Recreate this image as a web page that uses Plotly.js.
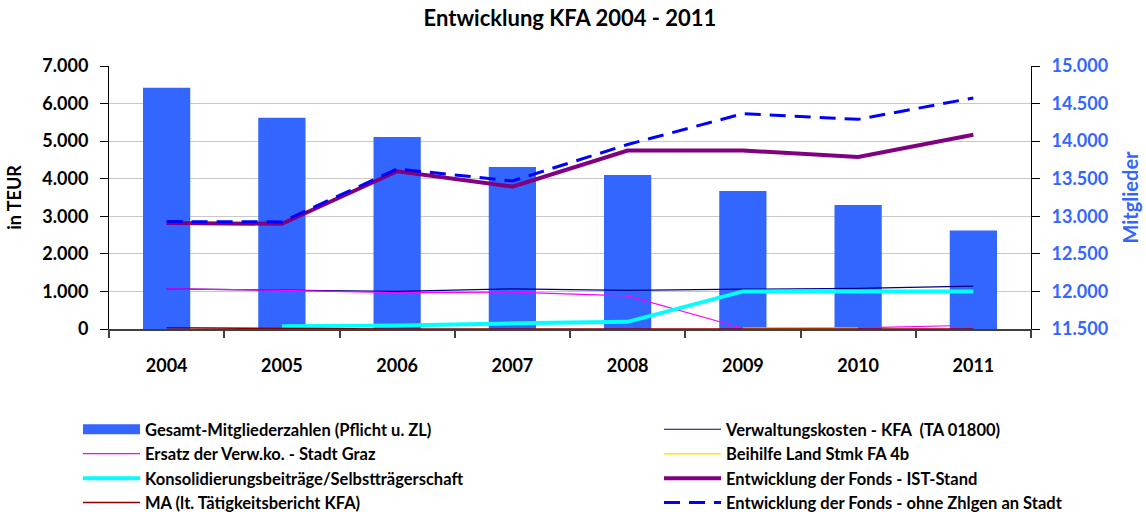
<!DOCTYPE html>
<html>
<head>
<meta charset="utf-8">
<script src="https://cdn.plot.ly/plotly-3.0.1.min.js"></script>
<style>
body { margin: 0; background: #fff; }
#chart { width: 1146px; height: 512px; }
</style>
</head>
<body>
<div id="chart"></div>
<script>
// values
var years = ['2004', '2005', '2006', '2007', '2008', '2009', '2010', '2011'];
var mitglieder = [14710, 14310, 14055, 13655, 13550, 13335, 13150, 12810];
var verwaltung = [1070, 1040, 1000, 1070, 1030, 1060, 1080, 1140];
var ersatz = [1070, 1030, 970, 980, 880, 20, 30, 100];
var beihilfe = [null, null, null, null, null, 20, 20, null];
var konsolidierung = [null, 70, 90, 150, 190, 1000, 1000, 1000];
var fondsIst = [2820, 2800, 4200, 3790, 4750, 4750, 4580, 5170];
var ma = [30, 10, 0, 0, 0, 0, 0, 0];
var fondsOhne = [2860, 2850, 4260, 3940, 4910, 5730, 5580, 6150];

var barColor = '#3366FF';

function lineTrace(name, y, color, width, legendId, dash) {
	return {
		type: 'scatter',
		mode: 'lines',
		x: years,
		y: y,
		yaxis: 'y2',
		name: name,
		legend: legendId,
		line: { color: color, width: width, dash: dash || 'solid' },
		connectgaps: false,
		hoverinfo: 'x+y+name'
	};
}

var data = [
	{
		type: 'bar',
		x: years,
		y: mitglieder,
		yaxis: 'y',
		width: 0.41,
		marker: { color: barColor },
		name: 'Gesamt-Mitgliederzahlen (Pflicht u. ZL)',
		showlegend: false
	},
	// legend entry for the bars (wide swatch like the original)
	{
		type: 'scatter',
		mode: 'lines',
		x: [null],
		y: [null],
		yaxis: 'y2',
		legend: 'legend',
		name: 'Gesamt-Mitgliederzahlen (Pflicht u. ZL)',
		line: { color: barColor, width: 10 },
		hoverinfo: 'skip'
	},
	lineTrace('Verwaltungskosten - KFA  (TA 01800)', verwaltung, '#000080', 1.2, 'legend2'),
	lineTrace('Ersatz der Verw.ko. - Stadt Graz', ersatz, '#FF00FF', 1.2, 'legend'),
	lineTrace('Beihilfe Land Stmk FA 4b', beihilfe, '#FFE600', 1.5, 'legend2'),
	lineTrace('Konsolidierungsbeiträge/Selbstträgerschaft', konsolidierung, '#00FFFF', 4, 'legend'),
	lineTrace('Entwicklung der Fonds - IST-Stand', fondsIst, '#800080', 4, 'legend2'),
	lineTrace('MA (lt. Tätigkeitsbericht KFA)', ma, '#8B0000', 1.5, 'legend'),
	lineTrace('Entwicklung der Fonds - ohne Zhlgen an Stadt', fondsOhne, '#0000FF', 3, 'legend2', '16px,9px')
];

// plot area: x 109..1031 px
function legendBox(xPx) {
	return {
		orientation: 'v',
		xref: 'paper',
		yref: 'container',
		x: (xPx - 109) / 922,
		xanchor: 'left',
		y: 1 - 412 / 512,
		yanchor: 'top',
		itemwidth: 57,
		font: { size: 16.5, weight: 'bold' },
		bgcolor: 'rgba(0,0,0,0)',
		tracegroupgap: 0
	};
}

var layout = {
	width: 1146,
	height: 512,
	margin: { l: 109, r: 115, t: 66, b: 183 },
	paper_bgcolor: '#ffffff',
	plot_bgcolor: '#ffffff',
	separators: ',.',
	font: { family: 'Lato, sans-serif', size: 16, color: '#000000', weight: 'bold' },
	title: {
		text: 'Entwicklung KFA 2004 - 2011',
		font: { size: 22, weight: 'bold' },
		x: 0.5,
		xref: 'paper',
		y: 1 - 18 / 512,
		yref: 'container',
		yanchor: 'middle'
	},
	showlegend: true,
	legend: legendBox(78),
	legend2: legendBox(659),
	xaxis: {
		type: 'category',
		showline: true,
		linecolor: '#404040',
		linewidth: 1.5,
		ticks: 'outside',
		tickson: 'boundaries',
		ticklen: 7,
		tickcolor: '#404040',
		tickwidth: 1.5,
		tickfont: { size: 18, weight: 'bold' },
		ticklabelstandoff: 20,
		tickangle: 0,
		showgrid: false,
		zeroline: false
	},
	yaxis: {
		side: 'right',
		range: [11500, 15000],
		dtick: 500,
		tickformat: ',.0f',
		showline: true,
		linecolor: '#000000',
		ticks: 'outside',
		ticklen: 8,
		tickcolor: '#000000',
		tickfont: { size: 18, color: barColor, weight: 'bold' },
		ticklabelstandoff: 8,
		showgrid: true,
		gridcolor: '#c8c8c8',
		gridwidth: 1,
		zeroline: false,
		title: { text: 'Mitglieder', font: { size: 20, color: barColor, weight: 'bold' }, standoff: 16 }
	},
	yaxis2: {
		overlaying: 'y',
		side: 'left',
		range: [0, 7000],
		dtick: 1000,
		tickformat: ',.0f',
		showline: true,
		linecolor: '#000000',
		ticks: 'outside',
		ticklen: 8,
		tickcolor: '#000000',
		tickfont: { size: 18, color: '#000000', weight: 'bold' },
		ticklabelstandoff: 8,
		showgrid: false,
		zeroline: false,
		title: { text: 'in TEUR', font: { size: 18, color: '#000000', weight: 'bold' }, standoff: 16 }
	},
	bargap: 0.59
};

var config = { displayModeBar: false, responsive: false };

Plotly.newPlot(document.getElementById('chart'), data, layout, config);
</script>
</body>
</html>
